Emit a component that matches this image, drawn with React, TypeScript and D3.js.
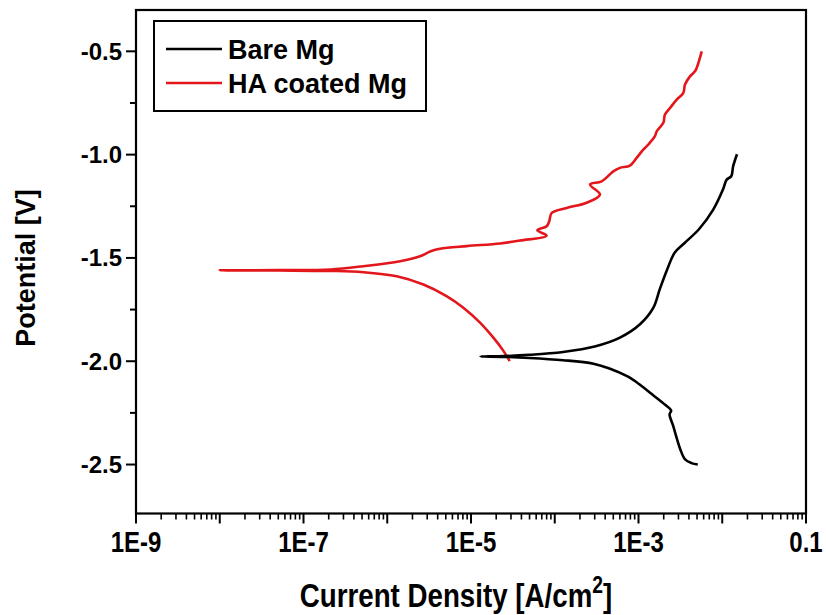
import React from 'react';
import * as d3 from 'd3';

// ---- data ----
const seriesNames = ['Bare Mg', 'HA coated Mg'];
const seriesColors = ['#000000', '#e3161b'];

// Bare Mg: cathodic end -> Ecorr -> anodic end
const bareCurrent = [
  5.1e-3, 4.3e-3, 3.6e-3, 3.16e-3, 2.85e-3, 2.6e-3, 2.35e-3, 2.45e-3, 2.1e-3, 1.45e-3,
  1.05e-3, 7.5e-4, 4.5e-4, 2.9e-4, 1.26e-4, 5e-5, 2.5e-5, 1.3e-5,
  2.5e-5, 5e-5, 1.26e-4, 3e-4, 6e-4, 1.05e-3, 1.5e-3, 1.8e-3, 2.2e-3, 2.7e-3,
  3.5e-3, 5.3e-3, 7.8e-3, 1.02e-2, 1.13e-2, 1.28e-2, 1.35e-2, 1.5e-2,
];
const bareVoltage = [
  -2.5, -2.493, -2.475, -2.427, -2.37, -2.314, -2.258, -2.238, -2.212, -2.16,
  -2.115, -2.075, -2.035, -2.012, -1.995, -1.984, -1.979, -1.977,
  -1.975, -1.969, -1.955, -1.929, -1.886, -1.82, -1.742, -1.65, -1.556, -1.475,
  -1.43, -1.36, -1.266, -1.169, -1.121, -1.105, -1.056, -0.998,
];

// HA coated Mg: cathodic end -> Ecorr -> anodic end
const haCurrent = [
  2.9e-5, 2.45e-5, 1.86e-5, 1.29e-5, 8.1e-6, 5.1e-6, 2.7e-6, 1.3e-6, 5.2e-7, 2.1e-7, 5e-8, 1e-8,
  5e-8, 2.1e-7, 5.2e-7, 1.42e-6, 2.46e-6, 3.3e-6, 4.27e-6, 8.9e-6, 2.22e-5, 3.85e-5,
  8.0e-5, 6.2e-5, 8.0e-5, 8.6e-5, 9.2e-5, 1.39e-4, 2.4e-4, 3.47e-4, 2.64e-4, 3.63e-4,
  5.0e-4, 6.0e-4, 7.9e-4, 9.5e-4, 1.14e-3, 1.31e-3, 1.57e-3, 1.65e-3, 1.98e-3, 2.07e-3,
  2.38e-3, 2.86e-3, 3.43e-3, 3.59e-3, 4.12e-3, 4.73e-3, 4.96e-3, 5.69e-3,
];
const haVoltage = [
  -2.0, -1.951, -1.887, -1.814, -1.741, -1.685, -1.629, -1.589, -1.569, -1.563, -1.561, -1.56,
  -1.559, -1.556, -1.54, -1.516, -1.492, -1.468, -1.456, -1.443, -1.43, -1.416,
  -1.392, -1.366, -1.347, -1.322, -1.282, -1.258, -1.233, -1.193, -1.145, -1.129,
  -1.081, -1.064, -1.053, -1.016, -0.976, -0.951, -0.911, -0.887, -0.846, -0.806,
  -0.774, -0.734, -0.701, -0.661, -0.621, -0.597, -0.58, -0.5,
];

const xTickValues = [1e-9, 1e-7, 1e-5, 1e-3, 1e-1];
const xTickLabels = ['1E-9', '1E-7', '1E-5', '1E-3', '0.1'];
const yTickValues = [-0.5, -1.0, -1.5, -2.0, -2.5];
const yTickLabels = ['-0.5', '-1.0', '-1.5', '-2.0', '-2.5'];
const yMinorValues = [-0.75, -1.25, -1.75, -2.25];

const xTitle = 'Current Density [A/cm';
const xTitleSup = '2';
const xTitleEnd = ']';
const yTitle = 'Potential [V]';

const W = 826;
const H = 615;
const box = { left: 136, right: 806, top: 10, bottom: 513.5 };

const boldFont = '"Liberation Sans", Arial, Helvetica, sans-serif';

export default function App() {
  const x = d3.scaleLog().domain([1e-9, 0.1]).range([box.left, box.right]);
  const y = d3.scaleLinear().domain([-2.737, -0.3]).range([box.bottom, box.top]);

  const line = d3
    .line<[number, number]>()
    .x((d) => x(d[0]))
    .y((d) => y(d[1]))
    .curve(d3.curveCatmullRom.alpha(0.5));

  const bare: [number, number][] = bareCurrent.map((c, i) => [c, bareVoltage[i]]);
  const ha: [number, number][] = haCurrent.map((c, i) => [c, haVoltage[i]]);

  // x ticks: majors every decade, minors 2..9
  const xMajors: number[] = [];
  const xMinors: number[] = [];
  for (let e = -9; e <= -1; e++) {
    xMajors.push(Math.pow(10, e));
    if (e < -1) for (let k = 2; k <= 9; k++) xMinors.push(k * Math.pow(10, e));
  }

  const legendX = 154;
  const legendY = 21;
  const legendRows = [49, 83];

  return (
    <svg
      width={W}
      height={H}
      style={{ position: 'absolute', left: 0, top: 0, background: '#fff' }}
    >
      <rect x={0} y={0} width={W} height={H} fill="#fff" />
      {/* series */}
      <path d={line(ha) || ''} fill="none" stroke={seriesColors[1]} strokeWidth={2.6} strokeLinejoin="round" />
      <path d={line(bare) || ''} fill="none" stroke={seriesColors[0]} strokeWidth={2.6} strokeLinejoin="round" />

      {/* frame */}
      <rect
        x={box.left}
        y={box.top}
        width={box.right - box.left}
        height={box.bottom - box.top}
        fill="none"
        stroke="#000"
        strokeWidth={2.2}
      />

      {/* x ticks */}
      {xMajors.map((v) => (
        <line key={'xM' + v} x1={x(v)} x2={x(v)} y1={box.bottom} y2={box.bottom + 10} stroke="#000" strokeWidth={2} />
      ))}
      {xMinors.map((v) => (
        <line key={'xm' + v} x1={x(v)} x2={x(v)} y1={box.bottom} y2={box.bottom + 6} stroke="#000" strokeWidth={1.6} />
      ))}
      {xTickValues.map((v, i) => (
        <text
          key={'xl' + v}
          transform={`translate(${x(v)}, 552) scale(0.8, 1)`}
          textAnchor="middle"
          fontFamily={boldFont}
          fontWeight="bold"
          fontSize={30}
          fill="#000"
        >
          {xTickLabels[i]}
        </text>
      ))}

      {/* y ticks */}
      {yTickValues.map((v, i) => (
        <g key={'y' + v}>
          <line x1={box.left - 10} x2={box.left} y1={y(v)} y2={y(v)} stroke="#000" strokeWidth={2} />
          <text
            x={box.left - 14}
            y={y(v) + 8.5}
            textAnchor="end"
            fontFamily={boldFont}
            fontWeight="bold"
            fontSize={24}
            fill="#000"
          >
            {yTickLabels[i]}
          </text>
        </g>
      ))}
      {yMinorValues.map((v) => (
        <line key={'ym' + v} x1={box.left - 6} x2={box.left} y1={y(v)} y2={y(v)} stroke="#000" strokeWidth={2} />
      ))}

      {/* axis titles */}
      <text
        transform="translate(456, 607) scale(0.84, 1)"
        textAnchor="middle"
        fontFamily={boldFont}
        fontWeight="bold"
        fontSize={33}
        fill="#000"
      >
        {xTitle}
        <tspan fontSize={23} dy={-14}>{xTitleSup}</tspan>
        <tspan dy={14}>{xTitleEnd}</tspan>
      </text>
      <text
        transform={`translate(35, 268) rotate(-90)`}
        textAnchor="middle"
        fontFamily={boldFont}
        fontWeight="bold"
        fontSize={27}
        fill="#000"
      >
        {yTitle}
      </text>

      {/* legend */}
      <rect x={legendX} y={legendY} width={272} height={90} fill="#fff" stroke="#000" strokeWidth={2} />
      {seriesNames.map((name, i) => (
        <g key={name}>
          <line x1={166} x2={222} y1={legendRows[i]} y2={legendRows[i]} stroke={seriesColors[i]} strokeWidth={2.6} />
          <text
            x={228}
            y={legendRows[i] + 9.5}
            fontFamily={boldFont}
            fontWeight="bold"
            fontSize={27}
            fill="#000"
          >
            {name}
          </text>
        </g>
      ))}
    </svg>
  );
}
